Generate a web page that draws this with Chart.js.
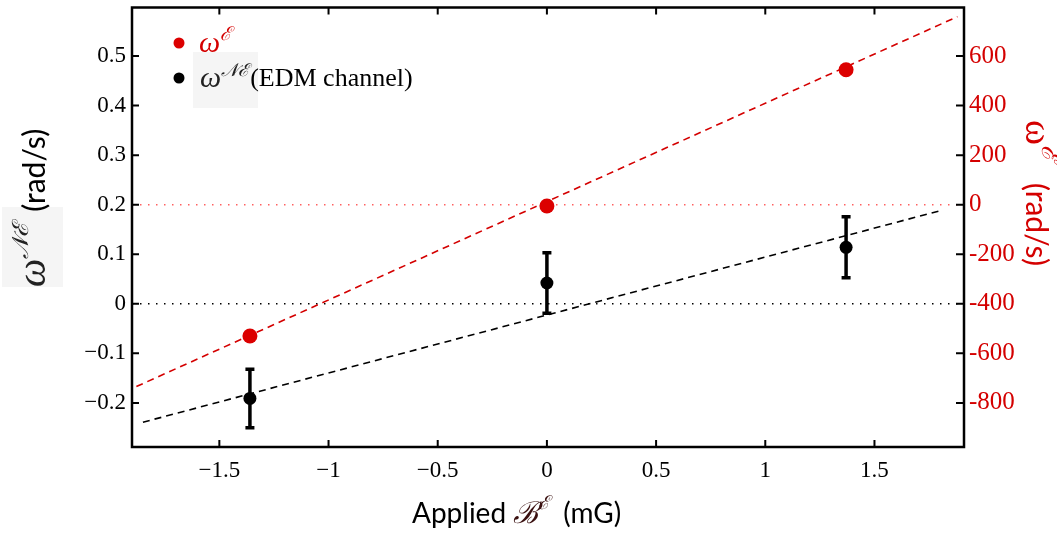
<!DOCTYPE html>
<html>
<head>
<meta charset="utf-8">
<script src="https://cdn.jsdelivr.net/npm/chart.js@4.4.1/dist/chart.umd.min.js"></script>
<style>
  html, body { margin: 0; padding: 0; background: #fff; }
  #wrap { width: 1057px; height: 533px; }
</style>
</head>
<body>
<div id="wrap"><canvas id="chart" width="1057" height="533"></canvas></div>
<script>
// applied field B^E (mG)
const fieldX = [-1.36, 0, 1.37];
// omega^E, right axis (rad/s)
const omegaE = [-530, -5, 545];
// omega^NE (EDM channel), left axis (rad/s) with error bars
const omegaNE = [-0.191, 0.042, 0.114];
const omegaNEErr = [0.059, 0.061, 0.0615];

// fit lines, end points
const fitEX = [-1.88, 1.88];
const fitEY = [-734, 759];
const fitNEX = [-1.85, 1.81];
const fitNEY = [-0.239, 0.189];

// axes
const xRange = [-1.9, 1.91];
const yRange = [-0.289, 0.598];
const y2Range = [-978, 796];
const xTicks = [-1.5, -1, -0.5, 0, 0.5, 1, 1.5];
const yTicks = [-0.2, -0.1, 0, 0.1, 0.2, 0.3, 0.4, 0.5];
const y2Ticks = [-800, -600, -400, -200, 0, 200, 400, 600];

const RED = '#d40000';
const SERIF = '"Liberation Serif", "Times New Roman", serif';
const SANS = 'Lato, "Open Sans", sans-serif';

const pts = (xs, ys) => xs.map((x, i) => ({ x: x, y: ys[i] }));
const minus = v => v < 0 ? '\u2212' + Math.abs(v) : String(v);

// draw a run of text pieces left to right from (x, y) baseline
function rich(ctx, parts, x, y) {
  ctx.textBaseline = 'alphabetic';
  ctx.textAlign = 'left';
  parts.forEach(p => {
    ctx.font = p.font;
    ctx.fillStyle = p.color;
    ctx.fillText(p.t, x + (p.dx || 0), y + (p.dy || 0));
    x += ctx.measureText(p.t).width + (p.dx || 0) + (p.gap || 0);
  });
}

const frame = {
  id: 'frame',
  afterDraw(chart) {
    const ctx = chart.ctx, a = chart.chartArea;
    const sx = chart.scales.x, sy = chart.scales.y, sy2 = chart.scales.y2;
    ctx.save();
    ctx.strokeStyle = '#000';
    ctx.lineWidth = 2;
    ctx.beginPath();
    xTicks.forEach(v => {
      const p = sx.getPixelForValue(v);
      ctx.moveTo(p, a.bottom); ctx.lineTo(p, a.bottom - 7);
      ctx.moveTo(p, a.top); ctx.lineTo(p, a.top + 7);
    });
    yTicks.forEach(v => {
      const p = sy.getPixelForValue(v);
      ctx.moveTo(a.left, p); ctx.lineTo(a.left + 7, p);
    });
    y2Ticks.forEach(v => {
      const p = sy2.getPixelForValue(v);
      ctx.moveTo(a.right, p); ctx.lineTo(a.right - 8, p);
    });
    ctx.stroke();
    ctx.lineWidth = 2.5;
    ctx.strokeRect(a.left, a.top, a.right - a.left, a.bottom - a.top);
    ctx.restore();
  }
};

const errorBars = {
  id: 'errorBars',
  beforeDatasetsDraw(chart) {
    const ctx = chart.ctx, sx = chart.scales.x, sy = chart.scales.y;
    ctx.save();
    ctx.strokeStyle = '#000';
    ctx.lineWidth = 3.5;
    fieldX.forEach((x, i) => {
      const px = sx.getPixelForValue(x);
      const top = sy.getPixelForValue(omegaNE[i] + omegaNEErr[i]);
      const bot = sy.getPixelForValue(omegaNE[i] - omegaNEErr[i]);
      ctx.beginPath();
      ctx.moveTo(px, top); ctx.lineTo(px, bot);
      ctx.moveTo(px - 4.5, top); ctx.lineTo(px + 4.5, top);
      ctx.moveTo(px - 4.5, bot); ctx.lineTo(px + 4.5, bot);
      ctx.stroke();
    });
    ctx.restore();
  }
};

const titles = {
  id: 'titles',
  afterDraw(chart) {
    const ctx = chart.ctx;
    ctx.save();

    // legend
    ctx.fillStyle = '#f5f5f5';
    ctx.fillRect(193, 52, 65, 56);
    ctx.fillStyle = '#dc0000';
    ctx.beginPath(); ctx.arc(179, 43, 5.5, 0, Math.PI * 2); ctx.fill();
    ctx.fillStyle = '#000';
    ctx.beginPath(); ctx.arc(179, 78, 5.5, 0, Math.PI * 2); ctx.fill();
    rich(ctx, [
      { t: '\u03c9', font: 'italic 30px ' + SERIF, color: RED },
      { t: '\u2130', font: 'italic 19px ' + SERIF, color: RED, dy: -12 }
    ], 199, 52);
    rich(ctx, [
      { t: '\u03c9', font: 'italic 30px ' + SERIF, color: '#222' },
      { t: '\ud835\udca9\u2130', font: 'italic 18px ' + SERIF, color: '#222', dy: -11, gap: 2 },
      { t: '(EDM channel)', font: '26px ' + SERIF, color: '#000', dy: -1 }
    ], 200, 87);

    // x title
    rich(ctx, [
      { t: 'Applied ', font: '28px ' + SANS, color: '#000' },
      { t: '\u212c', font: 'italic 30px ' + SERIF, color: '#3a1010' },
      { t: '\u2130', font: 'italic 19px ' + SERIF, color: '#3a1010', dy: -14, gap: 14 },
      { t: '(mG)', font: '28px ' + SANS, color: '#000' }
    ], 412, 523);

    // left title
    ctx.fillStyle = '#f5f5f5';
    ctx.fillRect(2, 207, 61, 80);
    ctx.save();
    ctx.translate(45, 287);
    ctx.rotate(-Math.PI / 2);
    rich(ctx, [
      { t: '\u03c9', font: 'italic 40px ' + SERIF, color: '#222' },
      { t: '\ud835\udca9\u2130', font: 'italic 23px ' + SERIF, color: '#222', dy: -17, gap: 12 },
      { t: '(rad/s)', font: '30px ' + SANS, color: '#000' }
    ], 0, 0);
    ctx.restore();

    // right title
    ctx.save();
    ctx.translate(1026, 120);
    ctx.rotate(Math.PI / 2);
    rich(ctx, [
      { t: '\u03c9', font: '38px ' + SERIF, color: RED },
      { t: '\u2130', font: 'italic 26px ' + SERIF, color: RED, dy: -16, gap: 22 },
      { t: '(rad/s)', font: '30px ' + SANS, color: RED }
    ], 0, 0);
    ctx.restore();

    ctx.restore();
  }
};

const lineStyle = (color, dash, width) => ({
  type: 'line', showLine: true, pointRadius: 0, borderColor: color,
  borderWidth: width, borderDash: dash, fill: false
});

new Chart(document.getElementById('chart'), {
  type: 'scatter',
  data: {
    datasets: [
      Object.assign(lineStyle('#ff6060', [1.5, 6.5], 1.5), {
        data: pts(xRange, [0, 0]), yAxisID: 'y2', order: 3 }),
      Object.assign(lineStyle('#000', [1.5, 6.5], 1.5), {
        data: pts(xRange, [0, 0]), yAxisID: 'y', order: 3 }),
      Object.assign(lineStyle(RED, [7, 5], 1.6), {
        data: pts(fitEX, fitEY), yAxisID: 'y2', order: 2 }),
      Object.assign(lineStyle('#000', [7, 5], 1.6), {
        data: pts(fitNEX, fitNEY), yAxisID: 'y', order: 2 }),
      { data: pts(fieldX, omegaE), yAxisID: 'y2', pointRadius: 7.5,
        backgroundColor: '#dc0000', borderWidth: 0, order: 0 },
      { data: pts(fieldX, omegaNE), yAxisID: 'y', pointRadius: 6.5,
        backgroundColor: '#000', borderWidth: 0, order: 0 }
    ]
  },
  options: {
    responsive: false,
    animation: false,
    devicePixelRatio: 1,
    layout: { padding: { top: 4, left: 0, right: 0, bottom: 0 } },
    plugins: { legend: { display: false }, tooltip: { enabled: false } },
    scales: {
      x: {
        type: 'linear', min: xRange[0], max: xRange[1],
        afterFit: s => { s.height = 86; s.paddingLeft = 0; s.paddingRight = 0; },
        afterBuildTicks: s => { s.ticks = xTicks.map(v => ({ value: v })); },
        grid: { display: false, drawTicks: false },
        border: { display: false },
        ticks: { padding: 10, color: '#000', font: { family: SERIF, size: 23 },
                 maxRotation: 0, callback: v => minus(v) }
      },
      y: {
        type: 'linear', position: 'left', min: yRange[0], max: yRange[1],
        afterFit: s => { s.width = 132; s.paddingTop = 0; s.paddingBottom = 0; },
        afterBuildTicks: s => { s.ticks = yTicks.map(v => ({ value: v })); },
        grid: { display: false, drawTicks: false },
        border: { display: false },
        ticks: { padding: 6, color: '#000', font: { family: SERIF, size: 23 },
                 callback: v => minus(v) }
      },
      y2: {
        type: 'linear', position: 'right', min: y2Range[0], max: y2Range[1],
        afterFit: s => { s.width = 93; s.paddingTop = 0; s.paddingBottom = 0; },
        afterBuildTicks: s => { s.ticks = y2Ticks.map(v => ({ value: v })); },
        grid: { display: false, drawTicks: false },
        border: { display: false },
        ticks: { padding: 5, color: RED, font: { family: SERIF, size: 25 },
                 callback: v => String(v) }
      }
    }
  },
  plugins: [frame, errorBars, titles]
});
</script>
</body>
</html>
